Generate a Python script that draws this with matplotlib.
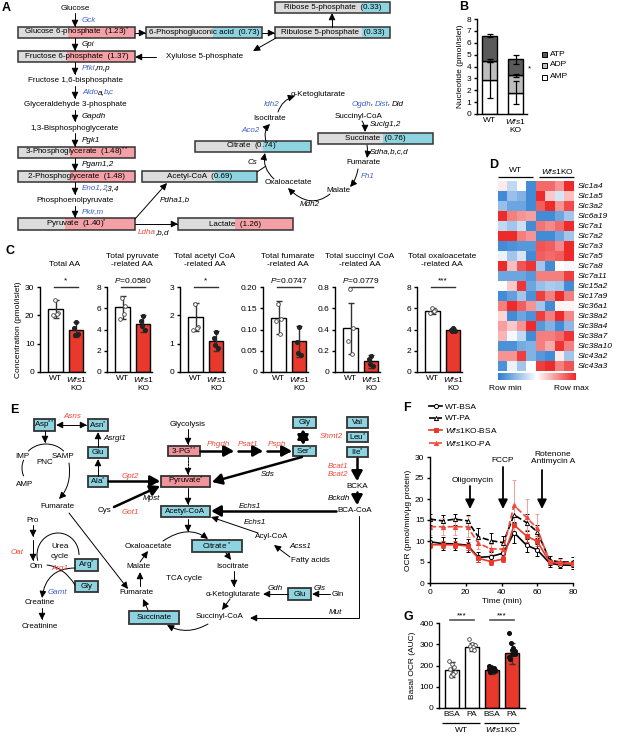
import numpy as np
import matplotlib
matplotlib.use("Agg")
import matplotlib.pyplot as plt
from matplotlib.patches import Rectangle, FancyArrowPatch
from matplotlib.path import Path
from matplotlib.colors import LinearSegmentedColormap
from matplotlib.lines import Line2D

plt.rcParams["font.family"] = ["Liberation Sans", "DejaVu Sans"]
plt.rcParams["font.size"] = 6
plt.rcParams["mathtext.fontset"] = "custom"
plt.rcParams["mathtext.rm"] = "Liberation Sans"
plt.rcParams["mathtext.it"] = "Liberation Sans:italic"
plt.rcParams["mathtext.bf"] = "Liberation Sans:bold"
plt.rcParams["axes.linewidth"] = 1.0
plt.rcParams["xtick.major.width"] = 1.0
plt.rcParams["ytick.major.width"] = 1.0
plt.rcParams["xtick.major.size"] = 2.5
plt.rcParams["ytick.major.size"] = 2.5
plt.rcParams["xtick.major.pad"] = 1.5
plt.rcParams["ytick.major.pad"] = 1.5

W, H = 620, 736
FS = 5.8
RED = "#e8392c"
PINK = "#f3a0a6"
CYAN = "#8ed3e0"
GRAY = "#dcdcdc"
BLUE = "#3c63c9"
TRED = "#f0483c"
EDGE = "#333333"

# ---------------- data ----------------
# A: metabolite levels in Wfs1 KO relative to WT
a_metab = ["Glucose 6-phosphate", "Fructose 6-phosphate", "3-Phosphoglycerate",
           "2-Phosphoglycerate", "Pyruvate", "Lactate", "6-Phosphogluconic acid",
           "Ribulose 5-phosphate", "Ribose 5-phosphate", "Acetyl-CoA", "Citrate", "Succinate"]
a_fold = [1.23, 1.37, 1.48, 1.48, 1.40, 1.26, 0.73, 0.33, 0.33, 0.69, 0.74, 0.76]
a_sig = ["*", "", "**", "", "*", "", "", "", "", "", "*", ""]

# B: nucleotides (pmol/islet)
b_groups = ["WT", "$\\mathit{Wfs1}$\nKO"]
b_series = ["ATP", "ADP", "AMP"]
b_amp = [2.85, 1.80]
b_adp = [1.65, 1.45]
b_atp = [2.10, 1.35]
b_amp_err = [1.50, 0.95]
b_adp_err = [0.12, 0.15]
b_atp_err = [0.10, 0.40]

# C: amino acid concentrations (pmol/islet)
c_titles = ["Total AA", "Total pyruvate\n-related AA", "Total acetyl CoA\n-related AA",
            "Total fumarate\n-related AA", "Total succinyl CoA\n-related AA",
            "Total oxaloacetate\n-related AA"]
c_wt_mean = [22.2, 6.1, 1.95, 0.128, 0.41, 5.75]
c_wt_sd = [3.2, 1.1, 0.50, 0.038, 0.24, 0.25]
c_ko_mean = [15.0, 4.55, 1.10, 0.072, 0.10, 3.95]
c_ko_sd = [2.7, 0.80, 0.35, 0.036, 0.06, 0.15]
c_wt_pts = [[25.3, 21.0, 20.0, 20.5], [7.0, 6.2, 5.0, 5.5], [2.4, 1.6, 1.5, 1.55],
            [0.16, 0.125, 0.12, 0.09], [0.78, 0.41, 0.29, 0.17], [6.0, 5.8, 5.6, 5.7]]
c_ko_pts = [[17.5, 15.5, 13.5, 13.0], [5.3, 4.8, 4.0, 4.3], [1.4, 1.2, 0.85, 0.95],
            [0.105, 0.07, 0.04, 0.045], [0.15, 0.12, 0.06, 0.08], [4.1, 4.0, 3.85, 3.9]]
c_sig = ["*", "$\\mathit{P}$=0.0580", "*", "$\\mathit{P}$=0.0747", "$\\mathit{P}$=0.0779", "***"]
c_ymax = [30, 8, 3, 0.20, 0.8, 8]
c_yticks = [[0, 10, 20, 30], [0, 2, 4, 6, 8], [0, 1, 2, 3],
            [0, 0.05, 0.10, 0.15, 0.20], [0, 0.2, 0.4, 0.6, 0.8], [0, 2, 4, 6, 8]]
c_ylabels = [["0", "10", "20", "30"], ["0", "2", "4", "6", "8"], ["0", "1", "2", "3"],
             ["0", "0.05", "0.10", "0.15", "0.20"], ["0", "0.2", "0.4", "0.6", "0.8"],
             ["0", "2", "4", "6", "8"]]

# D: amino acid transporter expression (row scaled)
d_genes = ["Slc1a4", "Slc1a5", "Slc3a2", "Slc6a19", "Slc7a1", "Slc7a2", "Slc7a3", "Slc7a5",
           "Slc7a8", "Slc7a11", "Slc15a2", "Slc17a9", "Slc36a1", "Slc38a2", "Slc38a4",
           "Slc38a7", "Slc38a10", "Slc43a2", "Slc43a3"]
d_vals = np.array([
    [0.10, -0.30, 0.00, -0.90, 0.70, 0.70, 0.50, 1.00],
    [-0.90, -0.50, -0.60, -0.90, 1.00, 0.25, -0.20, 0.30],
    [-0.50, -0.70, -0.70, -0.90, 0.75, 1.00, 0.50, 0.85],
    [1.00, 0.60, 0.50, 0.45, -0.90, -0.90, -0.70, -0.45],
    [-0.30, -0.45, -0.25, -0.90, 0.65, 0.55, 0.70, 1.00],
    [1.00, 1.00, 0.60, 0.50, -0.90, -0.90, -0.70, -0.45],
    [-0.90, -0.85, -0.80, -0.80, 0.80, 0.75, 0.55, 1.00],
    [-0.10, -0.45, -0.20, -0.90, 0.75, 0.70, 0.75, 1.00],
    [1.00, 0.30, 0.80, 0.95, -0.45, -0.90, 0.00, -0.05],
    [-0.70, -0.70, -0.70, -0.80, 0.60, 0.60, 0.60, 0.90],
    [0.00, 0.25, 0.95, -0.70, -0.50, -0.40, -0.45, -0.90],
    [-0.90, -0.75, -0.45, -0.85, 0.90, 0.60, 1.00, 0.60],
    [0.60, 1.00, 0.75, 0.50, -0.45, -0.90, 0.05, 0.05],
    [0.20, -0.90, -0.70, -0.85, 0.90, 0.60, 1.00, 0.55],
    [0.45, 0.25, 0.50, 1.00, -0.80, -0.60, -0.90, -0.55],
    [0.35, -0.05, -0.30, -0.90, 0.60, 0.60, 0.70, 0.95],
    [-0.85, -0.85, -0.65, -0.60, 0.60, 0.40, 0.95, 0.60],
    [0.50, 0.50, 0.90, -0.60, -0.80, -0.90, 0.10, -0.45],
    [-0.85, -0.10, -0.45, 0.00, 0.90, 1.00, 0.60, 0.80],
])

# F: OCR time course
f_time = [0, 7, 14, 21, 27, 34, 41, 47, 54, 60, 67, 73, 80]
f_wt_bsa = [9.8, 9.4, 9.3, 9.0, 6.1, 6.3, 7.1, 12.0, 9.0, 7.9, 4.7, 4.3, 4.2]
f_wt_pa = [15.2, 14.8, 15.2, 14.8, 11.0, 10.1, 9.6, 16.2, 14.4, 12.2, 5.4, 5.0, 5.0]
f_ko_bsa = [9.1, 9.1, 9.1, 8.8, 5.9, 5.1, 5.7, 13.8, 11.2, 9.9, 4.9, 4.7, 4.6]
f_ko_pa = [13.4, 13.4, 13.4, 13.4, 9.5, 8.1, 8.1, 18.5, 15.6, 13.0, 5.0, 4.9, 4.7]
f_wt_bsa_err = [1.2, 1.5, 1.5, 1.5, 1.2, 1.0, 1.2, 2.5, 1.5, 1.5, 0.8, 0.8, 0.8]
f_wt_pa_err = [1.3, 1.5, 1.3, 1.5, 2.0, 1.8, 1.5, 2.0, 2.0, 1.5, 1.0, 1.0, 1.2]
f_ko_bsa_err = [0.8, 0.8, 0.8, 1.0, 0.8, 0.8, 0.8, 2.0, 1.5, 1.2, 0.6, 0.6, 0.6]
f_ko_pa_err = [2.0, 2.0, 2.0, 2.5, 1.5, 1.2, 1.5, 6.0, 4.5, 3.5, 0.8, 0.8, 0.8]
f_names = ["WT-BSA", "WT-PA", "$\\mathit{Wfs1}$KO-BSA", "$\\mathit{Wfs1}$KO-PA"]

# G: basal OCR (AUC)
g_labels = ["BSA", "PA", "BSA", "PA"]
g_groups = ["WT", "$\\mathit{Wfs1}$KO"]
g_mean = [180, 288, 177, 258]
g_sd = [35, 20, 15, 50]
g_pts = [[222, 205, 195, 182, 170, 162, 150, 158],
         [325, 300, 296, 290, 285, 280, 275],
         [198, 192, 187, 182, 178, 172, 168, 185, 176],
         [352, 305, 282, 268, 262, 252, 242, 232, 272, 255]]

# ---------------- figure ----------------
fig = plt.figure(figsize=(W / 100, H / 100), dpi=100)
base = fig.add_axes([0, 0, 1, 1])
base.set_xlim(0, W)
base.set_ylim(H, 0)
base.axis("off")
rend = fig.canvas.get_renderer()


def px_axes(x0, y0, x1, y1):
    ax = fig.add_axes([x0 / W, 1 - y1 / H, (x1 - x0) / W, (y1 - y0) / H])
    ax.set_facecolor("none")
    return ax


def txt(x, y, s, color="k", italic=False, ha="center", size=FS, **kw):
    return base.text(x, y, s, color=color, style="italic" if italic else "normal",
                     ha=ha, va="center", fontsize=size, **kw)


def rich(x, y, parts, ha="left", size=FS):
    # consecutive italic pieces in different colours
    cur = x
    arts = []
    for s, c in parts:
        if s == " ":
            cur += 2.0
            continue
        t = base.text(cur, y, s, color=c, style="italic", ha="left", va="center", fontsize=size)
        cur += t.get_window_extent(rend).width - 0.6
        arts.append(t)
    if ha == "center":
        sh = (cur - x) / 2
        for t in arts:
            t.set_x(t.get_position()[0] - sh)


def arrow(pts, lw=0.7, ms=9, style="-|>,head_length=0.45,head_width=0.22", ls="-", curve=False):
    if curve:
        codes = [Path.MOVETO, Path.CURVE3, Path.CURVE3]
    else:
        codes = [Path.MOVETO] + [Path.LINETO] * (len(pts) - 1)
    p = FancyArrowPatch(path=Path(pts, codes), arrowstyle=style, mutation_scale=ms,
                        lw=lw, color="k", linestyle=ls)
    base.add_patch(p)


def thick(pts, style="-|>,head_length=0.45,head_width=0.25"):
    arrow(pts, lw=1.8, ms=13, style=style)


def line(xs, ys, lw=0.7):
    base.plot(xs, ys, color="k", lw=lw, solid_capstyle="butt")


def mbox(x0, y0, x1, y1, label, fill, split=None, lw=1.1):
    if split is None:
        base.add_patch(Rectangle((x0, y0), x1 - x0, y1 - y0, facecolor=fill, edgecolor="none"))
    else:
        base.add_patch(Rectangle((x0, y0), split - x0, y1 - y0, facecolor=GRAY, edgecolor="none"))
        base.add_patch(Rectangle((split, y0), x1 - split, y1 - y0, facecolor=fill, edgecolor="none"))
    base.add_patch(Rectangle((x0, y0), x1 - x0, y1 - y0, facecolor="none", edgecolor=EDGE, lw=lw))
    txt((x0 + x1) / 2, (y0 + y1) / 2 + 0.3, label)


def panel(x, y, s):
    base.text(x, y, s, fontsize=9, fontweight="bold", ha="left", va="center")


# ---------------- A ----------------
panel(2, 8, "A")
a_pos = [(18, 27, 135, 38, 68), (18, 51, 135, 62, 67), (18, 147, 135, 158, 70),
         (18, 171, 135, 182, 70), (18, 218, 135, 230, 65), (178, 218, 293, 230, 235),
         (146, 27, 262, 38, 213), (275, 27, 390, 38, 362), (275, 2, 390, 13, 362),
         (142, 171, 257, 182, 215), (195, 141, 311, 152, 263), (318, 133, 433, 144, 383)]
for name, v, sg, (x0, y0, x1, y1, sp) in zip(a_metab, a_fold, a_sig, a_pos):
    lab = f"{name}  ({v:.2f})" + (f"$^{{{sg}}}$" if sg else "")
    mbox(x0, y0, x1, y1, lab, PINK if v > 1 else CYAN, split=sp)

for s, y in [("Glucose", 8), ("Fructose 1,6-bisphosphate", 81), ("Glyceraldehyde 3-phosphate", 105),
             ("1,3-Bisphosphoglycerate", 128), ("Phosphoenolpyruvate", 201)]:
    txt(75, y, s)
txt(205, 57, "Xylulose 5-phosphate")
for y0, y1 in [(13, 27), (38, 51), (62, 75), (86, 99), (110, 122), (133, 147), (158, 171),
               (182, 195), (206, 218)]:
    arrow([(75, y0), (75, y1)])
arrow([(135, 33), (146, 33)])
arrow([(262, 33), (275, 33)])
arrow([(332, 27), (332, 13)])
arrow([(276, 38), (253, 51)])
arrow([(156, 57), (135, 57)])
arrow([(135, 219), (167, 183)])
arrow([(135, 224), (178, 224)])

rich(82, 20, [("Gck", BLUE)])
rich(82, 44, [("Gpi", "k")])
rich(82, 69, [("Pfkl", BLUE), (",m,p", "k")])
rich(82, 93, [("Aldo", BLUE), ("a,", "k"), ("b", BLUE), (",", "k"), ("c", BLUE)])
rich(82, 117, [("Gapdh", "k")])
rich(82, 140, [("Pgk1", "k")])
rich(82, 164, [("Pgam1,2", "k")])
rich(82, 189, [("Eno1", BLUE), (",", "k"), ("2", BLUE), (",3,4", "k")])
rich(82, 212, [("Pklr,m", BLUE)])
rich(160, 200, [("Pdha1,b", "k")])
rich(138, 233, [("Ldha", TRED), (",b,d", "k")])

# TCA cycle
for s, x, y in [("\u03b1-Ketoglutarate", 318, 95), ("Isocitrate", 270, 118),
                ("Succinyl-CoA", 359, 116), ("Fumarate", 363, 163), ("Malate", 338, 190),
                ("Oxaloacetate", 288, 183)]:
    txt(x, y, s)
rich(271, 105, [("Idh2", BLUE)], ha="center")
rich(250, 131, [("Aco2", BLUE)], ha="center")
rich(252, 163, [("Cs", "k")], ha="center")
rich(352, 104, [("Ogdh", BLUE), (",", "k"), (" ", None), ("Dlst", BLUE), (",", "k"), (" ", None),
                ("Dld", "k")])
rich(370, 125, [("Suclg1,2", "k")])
rich(370, 152, [("Sdha,b,c,d", "k")])
rich(361, 177, [("Fh1", BLUE)])
rich(310, 204, [("Mdh2", "k")], ha="center")
arrow([(274, 179), (262, 168), (265, 153)], curve=True)
line([257, 266], [172, 166])
arrow([(266, 141), (263, 131), (270, 124)], curve=True)
arrow([(278, 112), (282, 100), (295, 96)], curve=True)
arrow([(362, 121), (365, 125), (365, 132)], curve=True)
arrow([(367, 145), (368, 151), (367, 158)], curve=True)
arrow([(358, 169), (356, 180), (350, 187)], curve=True)
arrow([(330, 194), (310, 210), (288, 188)], curve=True)

# ---------------- B ----------------
panel(459, 7, "B")
axb = px_axes(477, 19, 527, 114)
xb = np.arange(2)
axb.bar(xb, b_amp, width=0.58, color="white", edgecolor="k", lw=1.0)
axb.bar(xb, b_adp, width=0.58, bottom=b_amp, color="#bdbdbd", edgecolor="k", lw=1.0)
b_top2 = np.add(b_amp, b_adp)
axb.bar(xb, b_atp, width=0.58, bottom=b_top2, color="#5a5a5a", edgecolor="k", lw=1.0)
axb.errorbar(xb, b_amp, yerr=b_amp_err, fmt="none", ecolor="k", elinewidth=0.9, capsize=2, capthick=0.9)
axb.errorbar(xb, b_top2, yerr=b_adp_err, fmt="none", ecolor="k", elinewidth=0.9, capsize=2, capthick=0.9)
axb.errorbar(xb, b_top2 + np.array(b_atp), yerr=b_atp_err, fmt="none", ecolor="k", elinewidth=0.9,
             capsize=2, capthick=0.9)
axb.set_xlim(-0.48, 1.44)
axb.set_ylim(0, 8)
axb.set_yticks(range(9))
axb.set_xticks(xb, b_groups)
axb.tick_params(axis="x", length=0, pad=2)
axb.spines[["top", "right"]].set_visible(False)
axb.set_ylabel("Nucleotide (pmol/islet)", fontsize=6, labelpad=2)
txt(529, 69, "*")
for s, c, y in zip(b_series, ["#5a5a5a", "#bdbdbd", "white"], [54, 65, 77]):
    base.add_patch(Rectangle((542, y - 2.5), 5, 5, facecolor=c, edgecolor="k", lw=0.7))
    txt(550, y, s, ha="left", size=6)

# ---------------- C ----------------
panel(6, 251, "C")
c_left = [40, 107, 180, 263, 335, 417]
off_wt = [-0.02, 0.12, -0.14, 0.08]
off_ko = [0.02, -0.1, 0.12, -0.04]
for i in range(6):
    ax = px_axes(c_left[i], 287, c_left[i] + 45, 372)
    ax.bar([0, 1], [c_wt_mean[i], c_ko_mean[i]], width=0.72, color=["white", RED],
           edgecolor="k", lw=1.0, zorder=1)
    ax.errorbar([0, 1], [c_wt_mean[i], c_ko_mean[i]], yerr=[c_wt_sd[i], c_ko_sd[i]], fmt="none",
                ecolor="#333333", elinewidth=1.0, capsize=2.5, capthick=1.0, zorder=3)
    ax.scatter(np.array(off_wt), c_wt_pts[i], s=7, facecolor="white", edgecolor="#444444", lw=0.6, zorder=4)
    ax.scatter(1 + np.array(off_ko), c_ko_pts[i], s=7, color="#222222", zorder=4)
    ym = c_ymax[i]
    ax.set_xlim(-0.76, 1.44)
    ax.set_ylim(0, ym)
    ax.set_yticks(c_yticks[i], c_ylabels[i])
    ax.set_xticks([0, 1], ["WT", "$\\mathit{Wfs1}$\nKO"])
    ax.tick_params(axis="x", length=0, pad=2)
    ax.spines[["top", "right"]].set_visible(False)
    ax.plot([-0.1, 1.1], [ym * 1.0, ym * 1.0], color="#333333", lw=1.0, clip_on=False)
    ax.text(0.5, ym * 1.025, c_sig[i], ha="center", va="bottom", fontsize=6)
    base.text(c_left[i] + 25, 268, c_titles[i], ha="center", va="bottom", fontsize=6, linespacing=1.15)
    if i == 0:
        ax.set_ylabel("Concentration (pmol/islet)", fontsize=6, labelpad=2)

# ---------------- D ----------------
panel(489, 165, "D")
cmap = LinearSegmentedColormap.from_list("rowscale", ["#2f7fd3", "#ffffff", "#ee2b2b"])
axd = px_axes(498, 181, 574, 371)
axd.imshow(d_vals, cmap=cmap, vmin=-1, vmax=1, aspect="auto", interpolation="nearest")
axd.set_xticks([])
axd.yaxis.tick_right()
axd.set_yticks(range(len(d_genes)), d_genes, fontsize=6, style="italic")
axd.tick_params(axis="y", length=0, pad=3)
for sp in axd.spines.values():
    sp.set_visible(False)
txt(515, 171, "WT", size=6)
txt(557, 171, "$\\mathit{Wfs1}$KO", size=6)
line([498, 533], [177, 177], lw=0.9)
line([539, 574], [177, 177], lw=0.9)
axcb = px_axes(498, 373, 576, 380)
axcb.imshow(np.linspace(-1, 1, 100)[None, :], cmap=cmap, aspect="auto")
axcb.axis("off")
txt(505, 388, "Row min", size=6)
txt(572, 388, "Row max", size=6)

# ---------------- E ----------------
panel(10, 410, "E")
e_boxes = [("Asp", "**", 34, 419, 55, 431, CYAN), ("Asn", "*", 88, 419, 108, 431, CYAN),
           ("Glu", "", 88, 447, 108, 458, CYAN), ("Ala", "*", 88, 476, 108, 487, CYAN),
           ("Gly", "", 293, 417, 316, 428, CYAN), ("Ser", "*", 293, 446, 316, 456, CYAN),
           ("Val", "", 347, 417, 368, 428, CYAN), ("Leu", "*", 347, 432, 368, 442, CYAN),
           ("Ile", "*", 347, 447, 368, 457, CYAN), ("Acetyl-CoA", "", 161, 506, 210, 517, CYAN),
           ("Citrate ", "*", 192, 540, 242, 552, CYAN), ("Glu", "", 288, 588, 311, 600, CYAN),
           ("Succinate", "", 129, 611, 179, 624, CYAN), ("Arg", "*", 75, 559, 98, 571, CYAN),
           ("Gly", "", 75, 581, 98, 592, CYAN), ("3-PG", "**", 168, 446, 200, 456, "#f0949a"),
           ("Pyruvate", "*", 161, 476, 210, 487, "#f0949a")]
for name, sg, x0, y0, x1, y1, c in e_boxes:
    mbox(x0, y0, x1, y1, name + (f"$^{{{sg}}}$" if sg else ""), c, lw=1.3)

for s, x, y in [("Glycolysis", 188, 424), ("IMP", 22, 457), ("SAMP", 63, 457), ("PNC", 45, 462),
                ("AMP", 25, 484), ("Fumarate", 57, 506), ("Cys", 105, 511), ("BCKA", 357, 487),
                ("BCA-CoA", 355, 511), ("Oxaloacetate", 148, 546), ("Acyl-CoA", 272, 537),
                ("Fatty acids", 310, 561), ("Isocitrate", 233, 566), ("Malate", 138, 566),
                ("TCA cycle", 184, 578), ("Fumarate", 136, 593), ("\u03b1-Ketoglutarate", 233, 594),
                ("Gln", 338, 594), ("Succinyl-CoA", 220, 617), ("Pro", 33, 520), ("Urea", 60, 546),
                ("cycle", 60, 556), ("Orn", 36, 566), ("Creatine", 40, 603), ("Creatinine", 40, 627)]:
    txt(x, y, s)
for s, x, y, c, ha in [("Asrgl1", 103, 439, "k", "left"), ("Sds", 268, 474, "k", "center"),
                       ("Mpst", 143, 499, "k", "left"), ("Bckdh", 350, 498, "k", "right"),
                       ("Echs1", 250, 506, "k", "center"), ("Echs1", 255, 523, "k", "center"),
                       ("Acss1", 300, 547, "k", "center"), ("Gdh", 275, 588, "k", "center"),
                       ("Gls", 320, 588, "k", "center"), ("Mut", 335, 612, "k", "center"),
                       ("Asns", 72, 416, TRED, "center"), ("Gpt2", 130, 476, TRED, "center"),
                       ("Got1", 130, 512, TRED, "center"), ("Phgdh", 218, 444, TRED, "center"),
                       ("Psat1", 248, 444, TRED, "center"), ("Psph", 277, 444, TRED, "center"),
                       ("Shmt2", 320, 437, TRED, "left"), ("Bcat1", 338, 466, TRED, "center"),
                       ("Bcat2", 338, 475, TRED, "center"), ("Oat", 17, 553, TRED, "center"),
                       ("Arg1", 60, 569, TRED, "center"), ("Gamt", 57, 593, BLUE, "center")]:
    txt(x, y, s, color=c, italic=True, ha=ha)

# thin arrows
arrow([(56, 425), (87, 425)], style="<|-|>,head_length=0.45,head_width=0.22")
arrow([(45, 431), (45, 443)])
arrow([(98, 447), (98, 432)])
arrow([(98, 476), (98, 459)])
arrow([(188, 429), (188, 445)])
arrow([(188, 457), (188, 475)], ls=(0, (2, 1.2)))
arrow([(188, 488), (188, 505)])
arrow([(188, 519), (188, 532)])
arrow([(163, 541), (188, 524), (208, 539)], curve=True)
arrow([(226, 553), (231, 560)])
arrow([(234, 571), (234, 587)])
arrow([(140, 562), (148, 551)])
arrow([(140, 586), (140, 572)])
arrow([(148, 610), (143, 599)])
arrow([(208, 624), (187, 636), (167, 625)], curve=True)
arrow([(230, 599), (222, 610)])
arrow([(288, 594), (263, 594)])
arrow([(330, 594), (312, 594)])
arrow([(359, 516), (359, 618), (250, 618)])
arrow([(69, 513), (128, 589)])
arrow([(258, 533), (211, 517)])
arrow([(290, 557), (274, 545)])
arrow([(33, 525), (33, 537)])
arrow([(33, 540), (33, 561)])
arrow([(42, 608), (42, 620)])
# PNC and urea cycle loops
t = np.radians(np.linspace(222, 318, 40))
line(46 + 24 * np.cos(t), 466 + 22 * np.sin(t))
t = np.radians(np.linspace(158, 202, 20))
line(46 + 24 * np.cos(t), 468 + 22 * np.sin(t))
arrow([(69, 463), (72, 485), (59, 499)], curve=True)
t = np.radians(np.linspace(165, 360, 60))
line(58 + 21 * np.cos(t), 555 + 22 * np.sin(t))
arrow([(47, 565), (64, 567), (75, 585)], curve=True, style="-")
arrow([(75, 568), (46, 568), (42, 598)], curve=True)

# thick arrows
thick([(108, 481), (160, 481)])
thick([(114, 507), (160, 486)])
thick([(200, 451), (234, 451)])
thick([(238, 451), (263, 451)])
thick([(267, 451), (292, 451)])
thick([(303, 429), (303, 445)], style="<|-|>,head_length=0.45,head_width=0.25")
thick([(302, 457), (212, 482)])
thick([(357, 458), (357, 481)])
thick([(357, 492), (357, 505)])
thick([(336, 511), (211, 511)])

# ---------------- F ----------------
panel(403, 408, "F")
axf = px_axes(430, 457, 573, 583)
f_styles = [("k", "-", "o", "white", "k"), ("k", "--", "^", "white", "k"),
            (RED, "-", "s", RED, RED), (TRED, "--", "^", TRED, "#f59d96")]
handles = []
for y, e, (c, ls, mk, mfc, ec), nm in zip([f_wt_bsa, f_wt_pa, f_ko_bsa, f_ko_pa],
                                          [f_wt_bsa_err, f_wt_pa_err, f_ko_bsa_err, f_ko_pa_err],
                                          f_styles, f_names):
    axf.errorbar(f_time, y, yerr=e, color=c, ls=ls, lw=1.2, marker=mk, ms=3, mfc=mfc, mec=c,
                 mew=0.7, ecolor=ec, elinewidth=0.7, capsize=1.5, capthick=0.7)
    handles.append(Line2D([], [], color=c, ls=ls, lw=1.2, marker=mk, ms=3, mfc=mfc, mec=c, mew=0.7, label=nm))
axf.set_xlim(0, 80)
axf.set_ylim(0, 30)
axf.set_xticks([0, 20, 40, 60, 80])
axf.set_yticks([0, 5, 10, 15, 20, 25, 30])
axf.spines[["top", "right"]].set_visible(False)
axf.set_xlabel("Time (min)", fontsize=6, labelpad=2)
axf.set_ylabel("OCR (pmol/min/\u03bcg protein)", fontsize=6, labelpad=2)
axf.legend(handles=handles, loc="upper left", bbox_to_anchor=(429 / W, 1 - 403 / H),
           bbox_transform=fig.transFigure, frameon=False, fontsize=6, handlelength=1.6,
           handletextpad=0.3, labelspacing=0.45, borderpad=0, borderaxespad=0)
for x, y0, s, ty in [(470, 486, "Oligomycin", 480), (503, 467, "FCCP", 461),
                     (542, 470, "Rotenone\nAntimycin A", 458)]:
    arrow([(x, y0), (x, 509)], lw=1.3, ms=11, style="-|>,head_length=0.5,head_width=0.25")
    tx = 473 if s == "Oligomycin" else (503 if s == "FCCP" else 553)
    base.text(tx, ty, s, ha="center", va="center", fontsize=6, linespacing=1.1)

# ---------------- G ----------------
panel(403, 617, "G")
axg = px_axes(439, 623, 525, 708)
xg = np.arange(4)
axg.bar(xg, g_mean, width=0.7, color=["white", "white", RED, RED], edgecolor="k", lw=1.0, zorder=1)
axg.errorbar(xg, g_mean, yerr=g_sd, fmt="none", ecolor="#333333", elinewidth=1.0, capsize=2.5,
             capthick=1.0, zorder=3)
for i, pts in enumerate(g_pts):
    off = np.linspace(-0.17, 0.17, len(pts))[np.argsort(np.arange(len(pts)) % 3)]
    if i < 2:
        axg.scatter(i + off, pts, s=7, facecolor="white", edgecolor="#444444", lw=0.6, zorder=4)
    else:
        axg.scatter(i + off, pts, s=7, color="#111111", zorder=4)
axg.set_xlim(-0.65, 3.65)
axg.set_ylim(0, 400)
axg.set_yticks([0, 100, 200, 300, 400])
axg.set_xticks(xg, g_labels)
axg.tick_params(axis="x", length=0, pad=2)
axg.spines[["top", "right"]].set_visible(False)
axg.set_ylabel("Basal OCR (AUC)", fontsize=6, labelpad=2)
for a, b in [(0, 1), (2, 3)]:
    axg.plot([a - 0.1, b + 0.1], [412, 412], color="#555555", lw=1.2, clip_on=False)
    axg.text((a + b) / 2, 418, "***", ha="center", va="bottom", fontsize=6)
line([442, 480], [723, 723], lw=0.9)
line([484, 519], [723, 723], lw=0.9)
txt(461, 730, g_groups[0], size=6)
txt(501, 730, g_groups[1], size=6)

fig.savefig("out.png", dpi=100)
